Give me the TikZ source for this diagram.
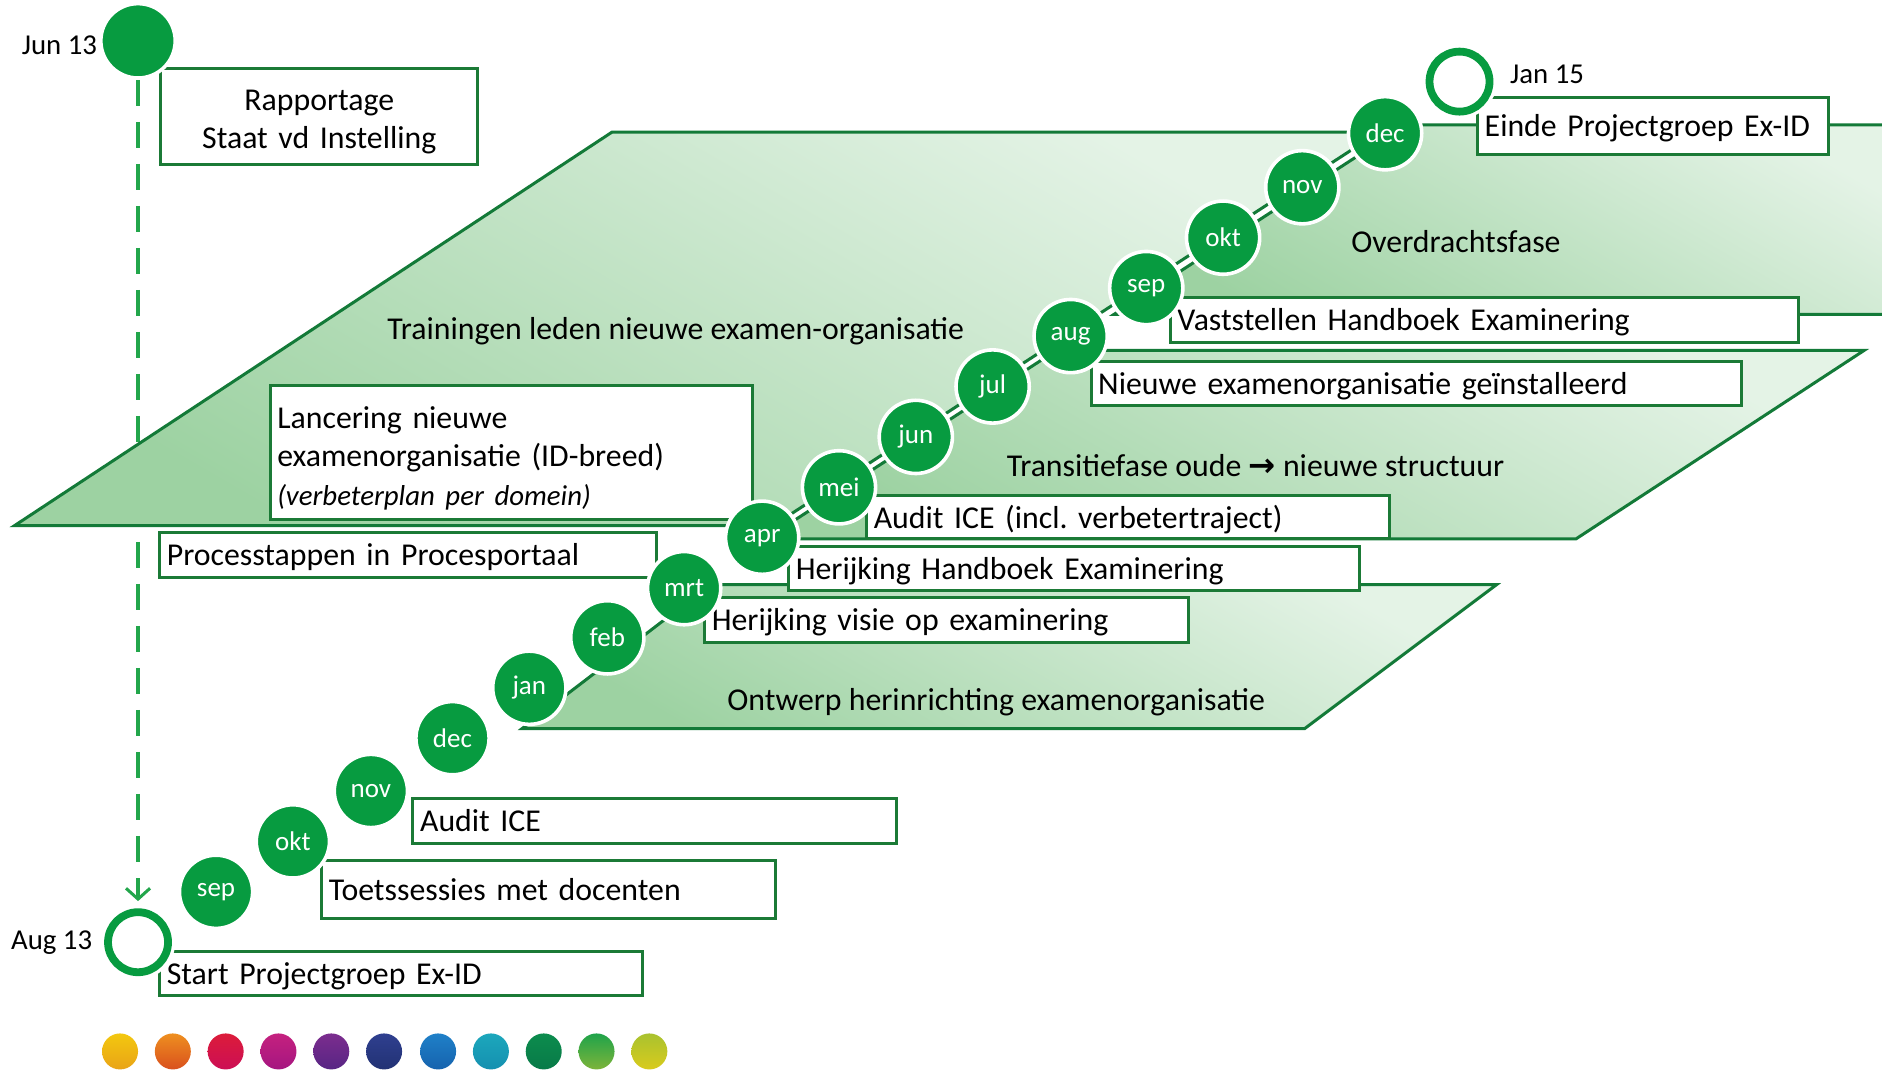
\documentclass[tikz,border=0pt]{standalone}
\usepackage{fontspec}
\setmainfont{Carlito}
\newfontfamily\arrowfont{DejaVu Sans}
\usetikzlibrary{arrows.meta}
\frenchspacing
\definecolor{dkgreen}{HTML}{137A38}
\definecolor{boxgreen}{HTML}{1B7A36}
\definecolor{cgreen}{HTML}{079B40}
\definecolor{dashgreen}{HTML}{22A64B}
\definecolor{pglight}{HTML}{E4F3E6}
\definecolor{pgdark}{HTML}{9DD2A2}
\newcommand\boxfont{\fontsize{26.5}{32}\selectfont}
\newcommand\datefont{\fontsize{24}{28}\selectfont}
\newcommand\monthfont{\fontsize{22.5}{25}\selectfont}
\begin{document}
\begin{tikzpicture}[x=1pt,y=-1pt,
  pgram/.style={draw=dkgreen, line width=2.5pt, line join=miter, top color=pglight, bottom color=pgdark, shading angle=-30},
  ebox/.style={draw=boxgreen, fill=white, line width=2.5pt, inner xsep=6pt, inner ysep=0pt, outer sep=0pt, anchor=north west, align=left, font=\boxfont},
  onebox/.style={ebox, text height=24pt, text depth=6pt},
  month/.style={circle, fill=cgreen, draw=white, line width=3pt, minimum size=61pt, inner sep=0pt, text=white, font=\monthfont},
  fullmile/.style={circle, fill=cgreen, draw=white, line width=3pt, minimum size=62pt, inner sep=0pt},
  ringmile/.style={circle, fill=white, draw=cgreen, line width=6.5pt, minimum size=50pt, inner sep=0pt, preaction={draw=white, line width=12pt}},
  datelbl/.style={font=\datefont, inner sep=0pt},
  plabel/.style={font=\boxfont, inner sep=0pt},
  dot/.style={circle, minimum size=30pt, inner sep=0pt, shading angle=-35}
]
\clip (0,0) rectangle (1568,892);
\fill[white] (0,0) rectangle (1568,892);

% milestones (nodes first so the dashed connector can use them)
\node[fullmile] (jun13) at (115,34) {};
\node[ringmile] (aug13) at (115,785) {};
\node[ringmile] (jan15) at (1216,68) {};

% dashed connector (behind the phases)
\draw[dashgreen, line width=3.5pt, dash pattern=on 22pt off 13pt,
      -{Straight Barb[length=9pt,width=20pt,line width=2.5pt]}, shorten >=6pt] (jun13) -- (aug13);

% phases
\draw[pgram] (12,438) -- (510,110) -- (1149,110) -- (644,438) -- cycle;
\draw[pgram] (928,262) -- (1171,104) -- (1600,104) -- (1600,262) -- cycle;
\draw[pgram] (638,449) -- (880,292) -- (1553,292) -- (1313,449) -- cycle;
\draw[pgram] (435,607) -- (592,487) -- (1247,487) -- (1087,607) -- cycle;

\node[plabel] (trainl) at (563,276) {Trainingen leden nieuwe examen-organisatie};
\node[plabel] (overl) at (1213,201) {Overdrachtsfase};
\node[plabel] (transl) at (1046,388) {Transitiefase oude {\arrowfont\bfseries\fontsize{27}{28}\selectfont →} nieuwe structuur};
\node[plabel] (ontwl) at (830,585) {Ontwerp herinrichting examenorganisatie};

% boxes
\node[ebox, align=center, text width=252pt, minimum height=80pt] (rapp) at (134,57) {\rule{0pt}{26pt}Rapportage\\Staat vd Instelling};
\node[onebox, text width=280pt, minimum height=48pt] (einde) at (1231,81) {Einde Projectgroep Ex-ID};
\node[onebox, text width=511pt, minimum height=37pt] (vast) at (975,248) {Vaststellen Handboek Examinering};
\node[onebox, text width=530pt, minimum height=37pt] (nieuw) at (909,301) {Nieuwe examenorganisatie geïnstalleerd};
\node[ebox, text width=390pt, minimum height=112pt] (lanc) at (225,321) {\rule{0pt}{28pt}Lancering nieuwe\\examenorganisatie (ID-breed)\\{\fontsize{24}{30}\selectfont\itshape (verbeterplan per domein)}};
\node[onebox, text width=424pt, minimum height=36pt] (auditv) at (722,413) {Audit ICE (incl. verbetertraject)};
\node[onebox, text width=464pt, minimum height=37pt] (herh) at (657,455) {Herijking Handboek Examinering};
\node[onebox, text width=402pt, minimum height=37pt] (proc) at (133,444) {Processtappen in Procesportaal};
\node[onebox, text width=391pt, minimum height=37pt] (herv) at (587,498) {Herijking visie op examinering};
\node[onebox, text width=391pt, minimum height=38pt] (audit) at (344,665) {Audit ICE};
\node[onebox, text width=366pt, minimum height=48pt] (toets) at (268,717) {Toetssessies met docenten};
\node[onebox, text width=390pt, minimum height=36pt] (start) at (133,793) {Start Projectgroep Ex-ID};

% milestones redrawn on top
\node[fullmile] at (jun13) {};
\node[ringmile] at (aug13) {};
\node[ringmile] at (jan15) {};
\node[datelbl, anchor=east] (jun13l) at (81,38) {Jun 13};
\node[datelbl, anchor=east] (aug13l) at (77,785) {Aug 13};
\node[datelbl, anchor=west] (jan15l) at (1258,62) {Jan 15};

% months
\foreach \n/\x/\y/\t in {1/180/743/sep, 2/244/701/okt, 3/309/659/nov, 4/377/615/dec,
  5/441/573/jan, 6/506/531/feb, 7/570/490/mrt, 8/635/448/apr, 9/699/406/mei,
  10/763/364/jun, 11/827/322/jul, 12/892/280/aug, 13/955/240/sep, 14/1019/198/okt,
  15/1085/156/nov, 16/1154/111/dec}
  \node[month] (m\n) at (\x,\y) {\t};

% colour dots
\foreach \n/\x/\ca/\cb in {1/100/F3C80F/E9A317, 2/144/EE8F1F/D9501E, 3/188/DC1C3A/CC0E55,
  4/232/C5217F/A51680, 5/276/7B2D8E/582584, 6/320/2F3F8F/223274, 7/365/1F80C8/1663AE,
  8/409/1CA7BC/1590B0, 9/453/0C8C4D/087A48, 10/497/1FA34A/7DB43A, 11/541/A9C22F/D9CB1C}{
  \definecolor{dota}{HTML}{\ca}\definecolor{dotb}{HTML}{\cb}
  \node[dot, top color=dota, bottom color=dotb] (dot\n) at (\x,876) {};
}
\end{tikzpicture}
\end{document}
